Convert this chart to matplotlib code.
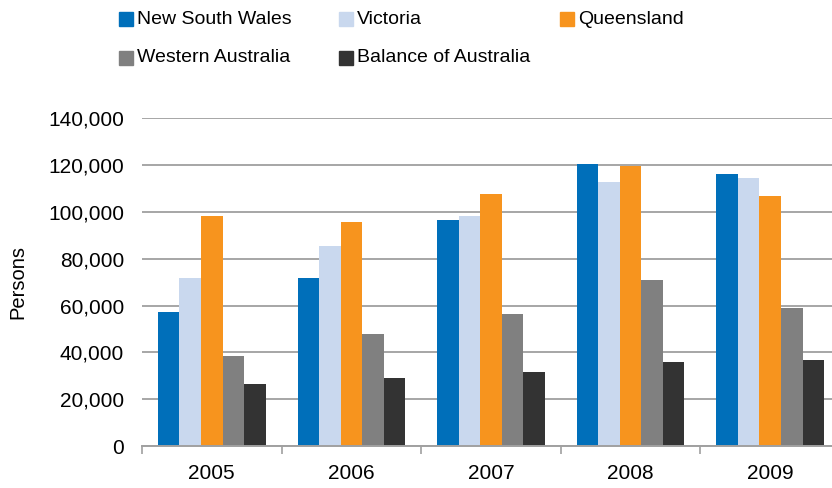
import matplotlib
matplotlib.use("Agg")
import matplotlib.pyplot as plt
from matplotlib.patches import Rectangle
import numpy as np

plt.rcParams['font.family'] = ['Liberation Sans', 'DejaVu Sans']

years = ["2005", "2006", "2007", "2008", "2009"]
series_names = ["New South Wales", "Victoria", "Queensland", "Western Australia", "Balance of Australia"]
nsw = [57300, 71800, 96600, 120500, 116200]
vic = [71800, 85500, 98300, 112800, 114500]
qld = [98300, 95700, 107700, 119700, 106800]
wa = [38500, 47900, 56400, 70900, 59000]
bal = [26500, 29100, 31600, 35900, 36800]
series_values = [nsw, vic, qld, wa, bal]
colors = ["#006FBA", "#C9D8EE", "#F7941E", "#808080", "#333333"]
y_ticks = [0, 20000, 40000, 60000, 80000, 100000, 120000, 140000]

fig = plt.figure(figsize=(8.32, 4.88), dpi=100)
W, H = 832, 488
left, right, top, bottom = 142, 840, 118.3, 446
ax = fig.add_axes([left / W, 1 - bottom / H, (right - left) / W, (bottom - top) / H])

x = np.arange(len(years))
n = len(series_names)
bw = 0.1543
for i, (vals, c) in enumerate(zip(series_values, colors)):
    ax.bar(x + (i - (n - 1) / 2) * bw, vals, width=bw, color=c, zorder=3, linewidth=0)

ax.set_xlim(-0.5, len(years) - 0.5)
ax.set_ylim(0, 140000)
ax.set_yticks(y_ticks)
ax.set_yticklabels([f"{v:,}" for v in y_ticks])
ax.set_xticks(x)
ax.set_xticklabels(years)
ax.set_xticks(np.arange(len(years) + 1) - 0.5, minor=True)
ax.tick_params(axis='x', which='major', length=0, pad=13, labelsize=15)
ax.tick_params(axis='x', which='minor', length=6, color='#A0A0A0', width=1.2, direction='out')
ax.tick_params(axis='y', length=0, pad=13, labelsize=15)
ax.grid(axis='y', color='#A6A6A6', linewidth=1.4, zorder=0)
for s in ['top', 'right', 'left']:
    ax.spines[s].set_visible(False)
ax.spines['bottom'].set_color('#A0A0A0')
ax.spines['bottom'].set_linewidth(1.4)
ax.spines['bottom'].set_zorder(4)

fig.text(18 / W, 1 - 282 / H, "Persons", rotation=90, ha='center', va='center', fontsize=14.5)

# legend (manual layout, 3 columns x 2 rows)
col_x = [119, 339, 560]
row_y = [19, 58]
sq = 14
for i, (name, c) in enumerate(zip(series_names, colors)):
    r, cidx = divmod(i, 3)
    x0, yc = col_x[cidx], row_y[r]
    fig.patches.append(Rectangle((x0 / W, 1 - (yc + sq / 2) / H), sq / W, sq / H,
                                 transform=fig.transFigure, color=c, figure=fig))
    fig.text((x0 + sq + 4) / W, 1 - yc / H, name, ha='left', va='center', fontsize=14)

fig.savefig("out.png", dpi=100)
